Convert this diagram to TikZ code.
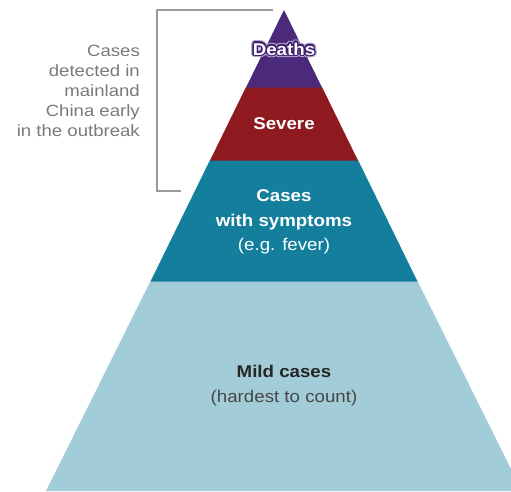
\documentclass[tikz,border=0pt]{standalone}
\usepackage{fontspec}
\setmainfont{Liberation Sans}
\newfontfamily\lblfont[FakeStretch=1.1]{Liberation Sans}
\newfontfamily\notefont[FakeStretch=1.14]{Liberation Sans}
\definecolor{deathc}{HTML}{4B2A7C}
\definecolor{deathline}{HTML}{3E2070}
\definecolor{deathhalo}{HTML}{B4A8CC}
\definecolor{severec}{HTML}{8E1A1F}
\definecolor{casesc}{HTML}{137F9D}
\definecolor{mildc}{HTML}{A3CCD9}
\definecolor{notec}{HTML}{7A7A7A}
\definecolor{bracketc}{HTML}{9A9A9A}
\begin{document}
\begin{tikzpicture}[x=1pt,y=-1pt,
  whitelbl/.style={text=white,font=\lblfont\fontsize{17}{24.5}\selectfont\bfseries,align=center,inner sep=0pt},
  notelbl/.style={text=notec,font=\notefont\fontsize{16.3}{20}\selectfont,align=right,inner sep=0pt,anchor=east},
  bracket/.style={draw=bracketc,line width=1.2pt}]
\useasboundingbox (0,0) rectangle (511,491);
\clip (0,0) rectangle (511,491);
% layers
\fill[mildc] (150.5,281) -- (417.5,281) -- (522,491) -- (46,491) -- cycle;
\fill[casesc] (210,160) -- (358,160) -- (417.5,281.5) -- (150.5,281.5) -- cycle;
\fill[severec] (246,87) -- (322,87) -- (358,160.5) -- (210,160.5) -- cycle;
\fill[deathc] (284,10) -- (322,87.5) -- (246,87.5) -- cycle;
% bracket
\coordinate (bt) at (273,10);
\coordinate (btl) at (157,10);
\coordinate (bbl) at (157,191);
\coordinate (bb) at (181,191);
\draw[bracket] (bt) -- (btl) -- (bbl) -- (bb);
% labels
\coordinate (dc) at (284,49);
\foreach \a in {0,30,...,330}{
  \node[whitelbl,text=deathhalo] (dh\a) at ([shift={(\a:2.6pt)}]dc) {Deaths};
}
\foreach \a in {0,30,...,330}{
  \node[whitelbl,text=deathline] (dp\a) at ([shift={(\a:1.4pt)}]dc) {Deaths};
}
\node[whitelbl] (deaths) at (dc) {Deaths};
\node[whitelbl] (severe) at (284,124) {Severe};
\node[whitelbl] (cases) at (284,222) {Cases\\with symptoms\\\mdseries (e.g. fever)};
\node[text=black!85,font=\lblfont\fontsize{17}{25}\selectfont,align=center,inner sep=0pt] (mild) at (284,386) {\textbf{Mild cases}\\\color{black!72}(hardest to count)};
\node[notelbl] (note) at (140,91) {Cases\\detected in\\mainland\\China early\\in the outbreak};
\end{tikzpicture}
\end{document}
